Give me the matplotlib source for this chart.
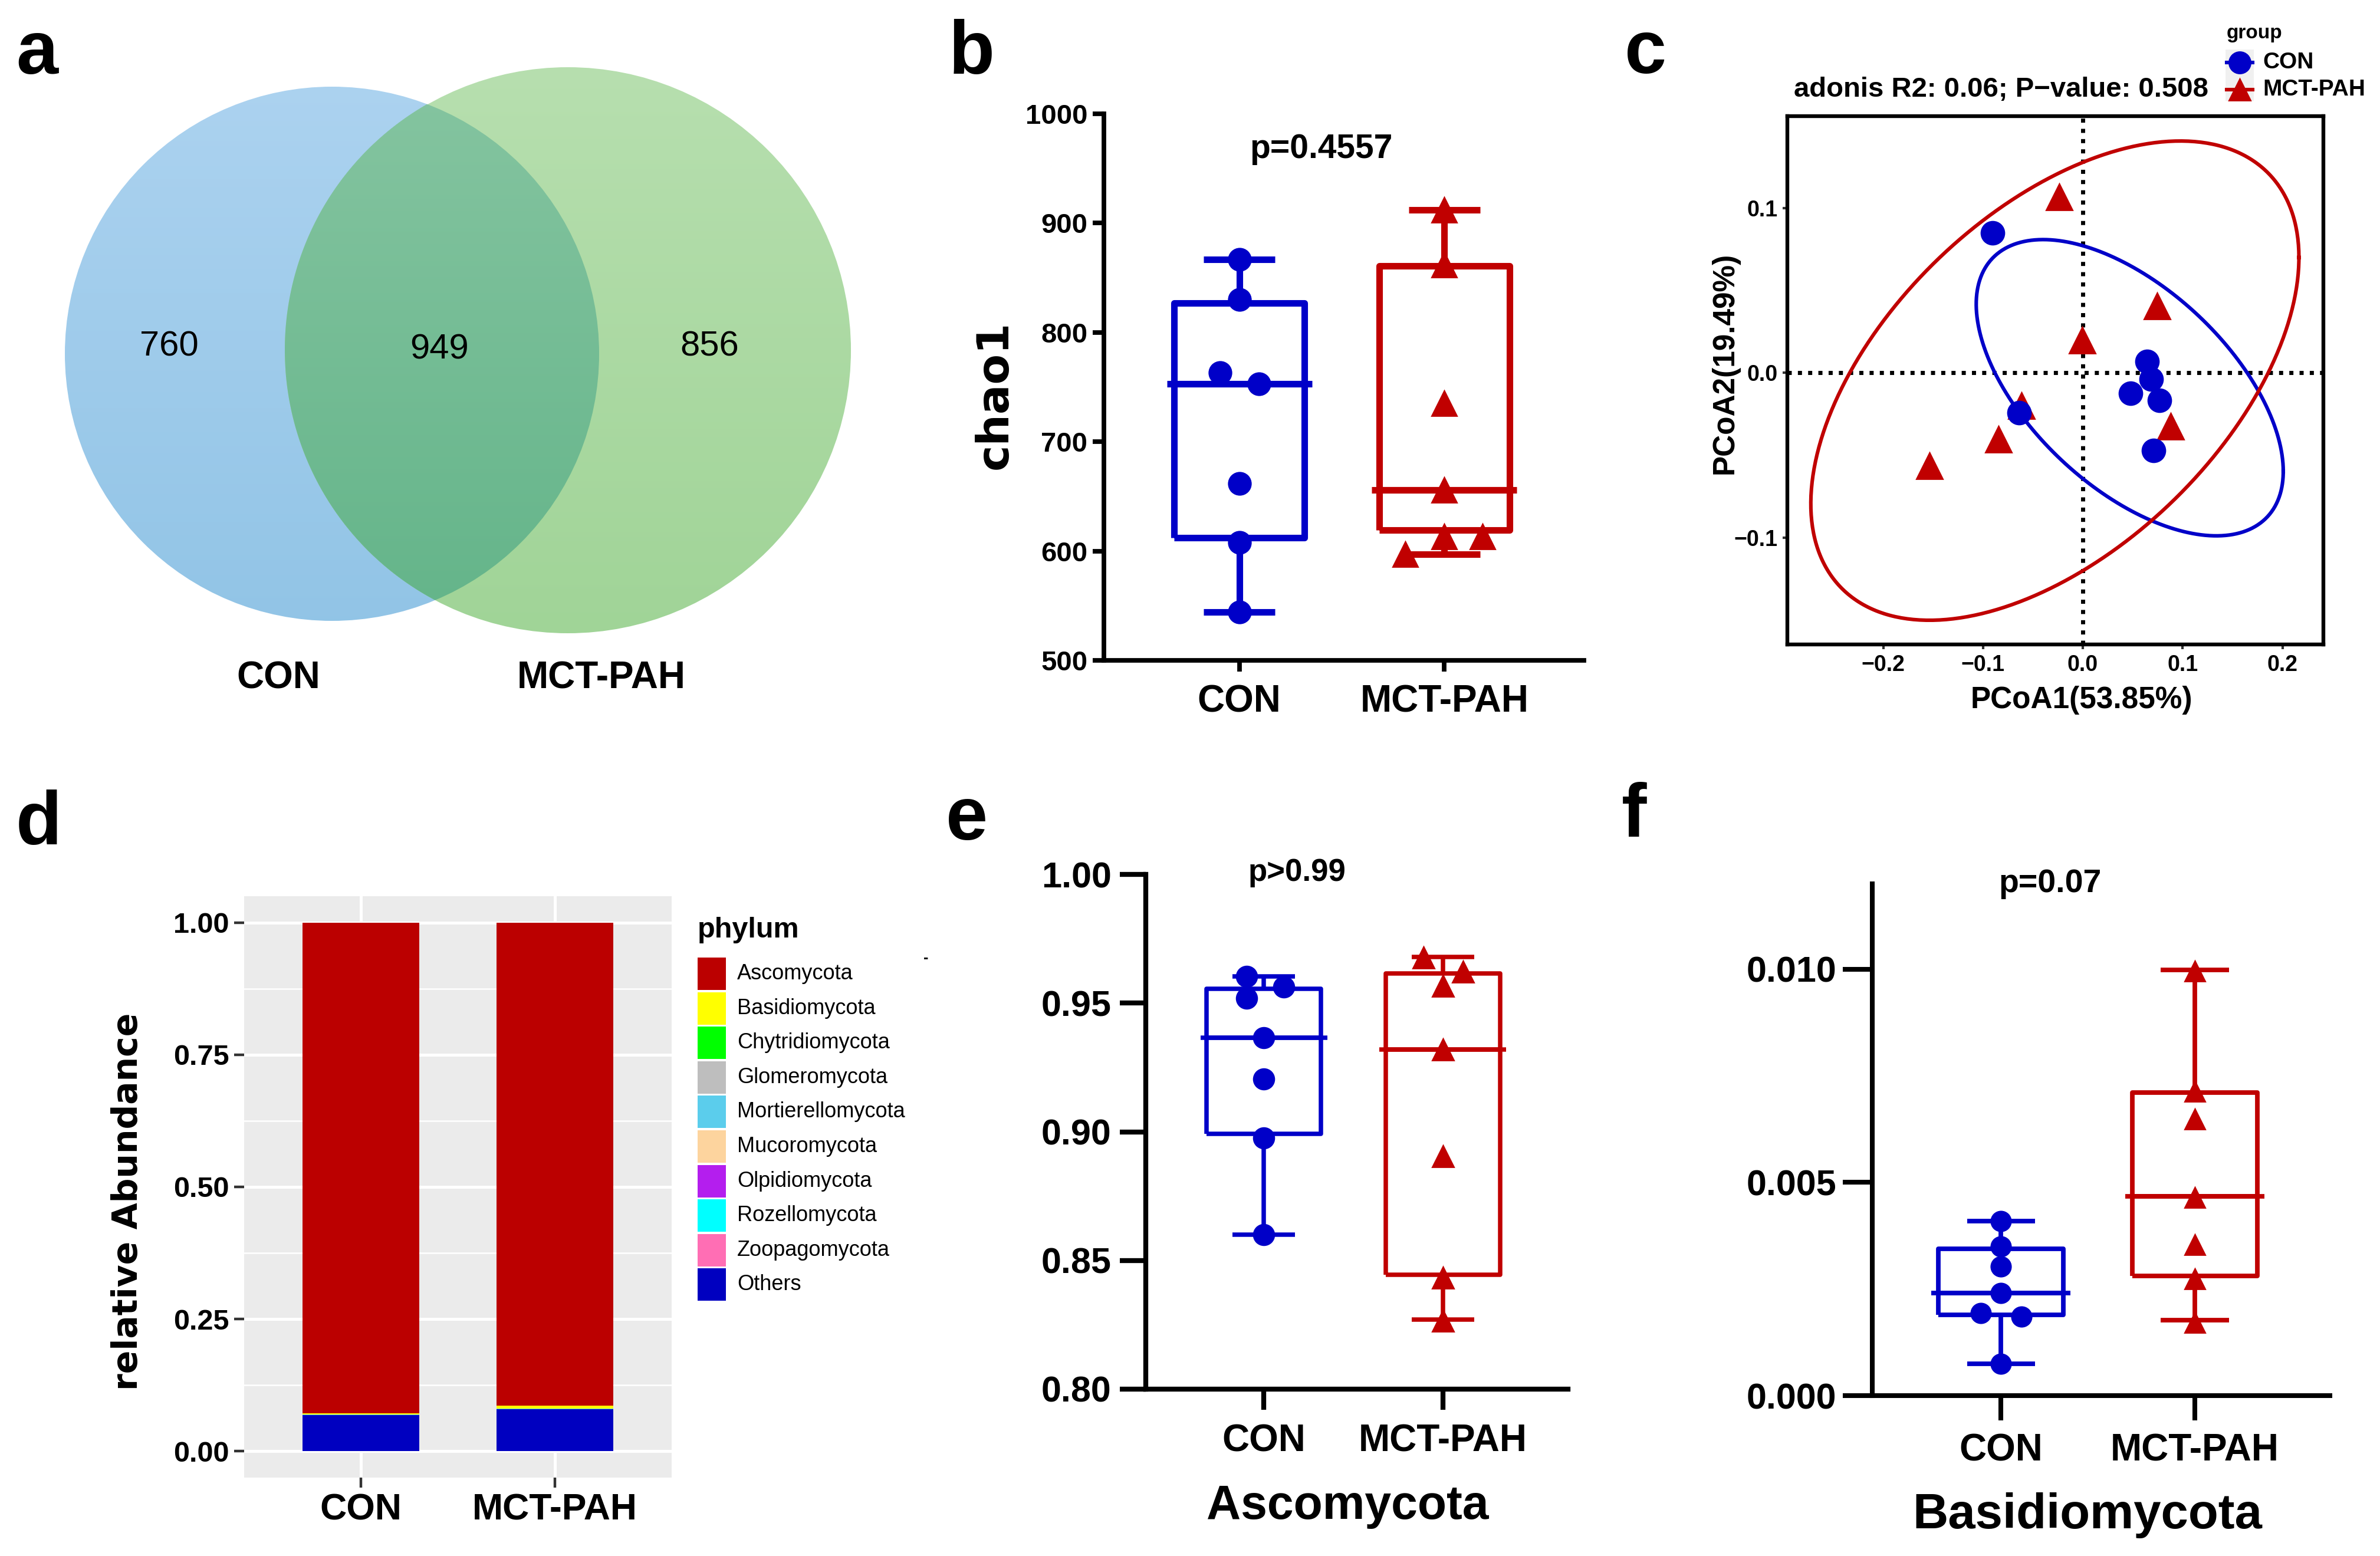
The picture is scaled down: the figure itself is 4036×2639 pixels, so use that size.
import numpy as np
import matplotlib
matplotlib.use('Agg')
import matplotlib.pyplot as plt
from matplotlib import font_manager as fm
from matplotlib.patches import Circle, Rectangle

W, H, DPI = 4037, 2639, 200

# ---- data ----
groups = ['CON', 'MCT-PAH']

# a: venn counts (CON only, shared, MCT-PAH only)
venn_counts = [760, 949, 856]

# b: chao1
chao1_con = [867, 830, 763, 753, 662, 608, 544]
chao1_pah = [912, 862, 735, 656, 613, 613, 597]
# whislo, q1, median, q3, whishi
chao1_box_con = [544, 612, 753, 827, 867]
chao1_box_pah = [597, 619, 656, 861, 912]
chao1_p = 'p=0.4557'

# c: PCoA
pc1_con = [-0.0907, 0.0644, 0.0685, 0.0480, 0.0767, 0.0706, -0.0640]
pc2_con = [0.0849, 0.0071, -0.0037, -0.0123, -0.0166, -0.0471, -0.0243]
pc1_pah = [-0.0234, 0.0747, -0.0008, -0.0615, 0.0882, -0.0845, -0.1538]
pc2_pah = [0.1070, 0.0406, 0.0200, -0.0200, -0.0323, -0.0403, -0.0566]
# ellipse: centre x, centre y, sd x, sd y, correlation
ell_con = [0.047, -0.009, 0.1538, 0.0900, -0.564]
ell_pah = [-0.028, -0.0047, 0.2445, 0.1456, 0.514]
adonis_title = 'adonis R2: 0.06; P\u2212value: 0.508'
pc1_label = 'PCoA1(53.85%)'
pc2_label = 'PCoA2(19.49%)'

# d: phylum relative abundance
phyla = ['Ascomycota', 'Basidiomycota', 'Chytridiomycota', 'Glomeromycota',
         'Mortierellomycota', 'Mucoromycota', 'Olpidiomycota', 'Rozellomycota',
         'Zoopagomycota', 'Others']
abund_con = [0.9282, 0.0025, 0.0003, 0.0001, 0.0004, 0.0002, 0.0001, 0.0001, 0.0001, 0.0680]
abund_pah = [0.9143, 0.0050, 0.0004, 0.0001, 0.0006, 0.0003, 0.0001, 0.0001, 0.0001, 0.0790]

# e: Ascomycota
asco_con = [0.9604, 0.9562, 0.9519, 0.9366, 0.9205, 0.8977, 0.8600]
asco_pah = [0.9676, 0.9622, 0.9568, 0.9319, 0.8905, 0.8432, 0.8265]
asco_box_con = [0.8600, 0.8991, 0.9366, 0.9555, 0.9604]
asco_box_pah = [0.8270, 0.8445, 0.9319, 0.9616, 0.9679]
asco_p = 'p>0.99'

# f: Basidiomycota
basid_con = [0.00409, 0.00350, 0.00303, 0.00240, 0.00194, 0.00185, 0.00075]
basid_pah = [0.00996, 0.00713, 0.00648, 0.00465, 0.00354, 0.00274, 0.00172]
basid_box_con = [0.00075, 0.00190, 0.00240, 0.00344, 0.00409]
basid_box_pah = [0.00177, 0.00281, 0.00467, 0.00711, 0.00998]
basid_p = 'p=0.07'

# ---- styling ----
BLUE = '#0000C8'
RED = '#C00000'
phylum_colors = ['#BB0000', '#FFFF00', '#00FF00', '#BEBEBE', '#5BCDEC',
                 '#FDD49E', '#B41EEE', '#00FFFF', '#FF6EB4', '#0000C0']

# horizontal spread of the dots (layout only)
jit_b_con = [0, 0, -0.095, 0.095, 0, 0, 0]
jit_b_pah = [0, 0, 0, 0, 0, 0.185, -0.19]
jit_e_con = [-0.096, 0.11, -0.096, 0, 0, 0, 0]
jit_e_pah = [-0.107, 0.113, 0, 0, 0, 0, 0]
jit_f_con = [0, 0, 0, 0, -0.104, 0.107, 0]
jit_f_pah = [0, 0, 0, 0, 0, 0, 0]

names = {f.name for f in fm.fontManager.ttflist}
NARROW = 'Liberation Sans Narrow' if 'Liberation Sans Narrow' in names else 'Liberation Sans'
ARIAL = 'Liberation Sans'
HEAVY = 'DejaVu Sans'
plt.rcParams['font.family'] = ARIAL

fig = plt.figure(figsize=(W / DPI, H / DPI), dpi=DPI)


def frac(l, t, r, b):
    return [l / W, 1 - b / H, (r - l) / W, (b - t) / H]


def ftext(x, y, s, **kw):
    return fig.text(x / W, 1 - y / H, s, **kw)


def fmt(v, nd):
    return f'{v:.{nd}f}'.replace('-', '\u2212')


# panel letters
for letter, (x, y) in zip('abcdef', [(27, 125), (1609, 125), (2755, 124),
                                     (27, 1432), (1604, 1424), (2750, 1419)]):
    ftext(x, y, letter, ha='left', va='baseline', fontsize=46,
          fontweight='bold', family=ARIAL)

# ---- a: venn ----
ax_a = fig.add_axes(frac(0, 0, 1500, 1250))
ax_a.set_xlim(0, 1500)
ax_a.set_ylim(1250, 0)
ax_a.axis('off')
circ_l = (563, 600, 453)
circ_r = (963, 594, 480)
ys = np.arange(1250) + 0.5
xs = np.arange(1500) + 0.5


def gradient(top, bot):
    t = np.clip((ys - 110) / (1080 - 110), 0, 1)[:, None]
    col = (1 - t) * np.array(top) + t * np.array(bot)
    return (col / 255.0).astype(np.float32)[:, None, :]


ext = (0, 1500, 1250, 0)
im = ax_a.imshow(gradient((173, 211, 240), (145, 196, 230)), extent=ext,
                 aspect='auto', interpolation='bilinear')
im.set_clip_path(Circle(circ_l[:2], circ_l[2], transform=ax_a.transData))
im = ax_a.imshow(gradient((183, 223, 175), (160, 212, 151)), extent=ext,
                 aspect='auto', interpolation='bilinear')
im.set_clip_path(Circle(circ_r[:2], circ_r[2], transform=ax_a.transData))
gx, gy = np.meshgrid(xs, ys)
alpha = np.clip(circ_r[2] - np.hypot(gx - circ_r[0], gy - circ_r[1]) + 0.5, 0, 1)
ov = np.empty((1250, 1500, 4), dtype=np.float32)
ov[..., :3] = gradient((134, 197, 161), (99, 180, 137))
ov[..., 3] = alpha
im = ax_a.imshow(ov, extent=ext, aspect='auto', interpolation='nearest')
im.set_clip_path(Circle(circ_l[:2], circ_l[2], transform=ax_a.transData))

for (x, y), n in zip([(287, 588), (745, 593), (1203, 588)], venn_counts):
    ax_a.text(x, y, str(n), ha='center', va='center', fontsize=21.5, family=NARROW)
for x, g in zip([472, 1020], groups):
    ax_a.text(x, 1150, g, ha='center', va='center', fontsize=23,
              fontweight='bold', family=NARROW)


# ---- dot + box helper ----
def dot_box(ax, vals, boxes, jits, colors, markers, ms, width, lw):
    for i in range(2):
        b = boxes[i]
        st = dict(whislo=b[0], q1=b[1], med=b[2], q3=b[3], whishi=b[4], fliers=[])
        p = dict(color=colors[i], linewidth=lw, solid_capstyle='butt')
        ax.bxp([st], positions=[i], widths=width, capwidths=0.35,
               showfliers=False, manage_ticks=False, boxprops=p,
               whiskerprops=p, capprops=p, medianprops=p)
        # median bar runs a little past the box, as in the prism style
        ax.hlines(b[2], i - width / 2 - 0.035, i + width / 2 + 0.035,
                  color=colors[i], lw=lw, zorder=3)
        ax.plot(i + np.array(jits[i]), vals[i], linestyle='none',
                marker=markers[i], color=colors[i], markersize=ms[i], zorder=4)


def style_axis(ax, lw, ylen, xlen, ypad, xpad):
    ax.spines[['top', 'right']].set_visible(False)
    for s in ('left', 'bottom'):
        ax.spines[s].set_linewidth(lw)
    ax.tick_params(axis='y', length=ylen, width=lw, pad=ypad)
    ax.tick_params(axis='x', length=xlen, width=lw, pad=xpad)
    ax.patch.set_alpha(0)


# ---- b: chao1 ----
ax_b = fig.add_axes(frac(1872, 193, 2686, 1120))
ax_b.set_xlim(-0.66, 1.68)
ax_b.set_ylim(500, 1000)
dot_box(ax_b, [chao1_con, chao1_pah], [chao1_box_con, chao1_box_pah],
        [jit_b_con, jit_b_pah], [BLUE, RED], ['o', '^'], [13.5, 15], 0.637, 4.0)
style_axis(ax_b, 2.8, 7, 7, 3, 7.5)
yt = [500, 600, 700, 800, 900, 1000]
ax_b.set_yticks(yt)
ax_b.set_yticklabels([str(v) for v in yt], fontsize=17, fontweight='bold', family=NARROW)
ax_b.set_xticks([0, 1])
ax_b.set_xticklabels(groups, fontsize=23, fontweight='bold', family=NARROW)
ftext(2240, 253, chao1_p, ha='center', va='center', fontsize=20.5,
      fontweight='bold', family=NARROW)
ftext(1687, 670, 'chao1', ha='center', va='center', rotation=90,
      fontsize=27, fontweight='bold', family=HEAVY)

# ---- c: PCoA ----
ax_c = fig.add_axes(frac(3031, 197, 3940, 1093))
ax_c.set_xlim(-0.296, 0.241)
ax_c.set_ylim(-0.165, 0.156)
ax_c.axhline(0, color='black', lw=2.5, ls=(0, (1, 1.5)), zorder=1)
ax_c.axvline(0, color='black', lw=2.5, ls=(0, (1, 1.5)), zorder=1)
t = np.linspace(0, 2 * np.pi, 400)
for e, col in zip([ell_con, ell_pah], [BLUE, RED]):
    cx, cy, sx, sy, rho = e
    ax_c.plot(cx + sx * np.cos(t),
              cy + sy * (rho * np.cos(t) + np.sqrt(1 - rho ** 2) * np.sin(t)),
              color=col, lw=2.2, zorder=2)
ax_c.plot(pc1_pah, pc2_pah, '^', color=RED, markersize=16, zorder=3)
ax_c.plot(pc1_con, pc2_con, 'o', color=BLUE, markersize=14, zorder=4)
for s in ax_c.spines.values():
    s.set_linewidth(2.3)
xt = [-0.2, -0.1, 0.0, 0.1, 0.2]
ax_c.set_xticks(xt)
ax_c.set_xticklabels([fmt(v, 1) for v in xt], fontsize=13.5, fontweight='bold')
ytc = [-0.1, 0.0, 0.1]
ax_c.set_yticks(ytc)
ax_c.set_yticklabels([fmt(v, 1) for v in ytc], fontsize=13.5, fontweight='bold')
ax_c.tick_params(length=3, width=1.5, color='#333333', pad=3)
ftext(3042, 152, adonis_title, ha='left', va='center', fontsize=17, fontweight='bold')
ftext(3530, 1187, pc1_label, ha='center', va='center', fontsize=18.5, fontweight='bold')
ftext(2925, 616, pc2_label, ha='center', va='center', rotation=90,
      fontsize=18.5, fontweight='bold')

# c legend
ax_lg = fig.add_axes(frac(3740, 20, 4037, 190))
ax_lg.set_xlim(3740, 4037)
ax_lg.set_ylim(190, 20)
ax_lg.axis('off')
ax_lg.add_patch(Rectangle((3774, 84), 48, 87, color='#F0F0F0', lw=0))
for y, col, mk, g in zip([106, 152], [BLUE, RED], ['o', '^'], groups):
    ax_lg.plot([3776, 3820], [y, y], color=col, lw=2.2)
    ax_lg.plot([3798], [y], marker=mk, color=col, markersize=13)
    ax_lg.text(3837, y, g, ha='left', va='center', fontsize=14, fontweight='bold')
ax_lg.text(3776, 56, 'group', ha='left', va='center', fontsize=12, fontweight='bold')

# ---- d: stacked bars ----
ax_d = fig.add_axes(frac(414, 1520, 1139, 2506))
ax_d.set_facecolor('#EBEBEB')
ax_d.set_xlim(0.4, 2.6)
ax_d.set_ylim(-0.05, 1.05)
for v in [0.125, 0.375, 0.625, 0.875]:
    ax_d.axhline(v, color='white', lw=0.9, zorder=0)
for v in [0, 0.25, 0.5, 0.75, 1.0]:
    ax_d.axhline(v, color='white', lw=1.8, zorder=0)
for v in [1, 2]:
    ax_d.axvline(v, color='white', lw=1.8, zorder=0)
xpos = np.array([1, 2])
bottom = np.zeros(2)
for i in range(len(phyla) - 1, -1, -1):
    vals = np.array([abund_con[i], abund_pah[i]])
    ax_d.bar(xpos, vals, width=0.6, bottom=bottom, color=phylum_colors[i],
             linewidth=0, zorder=2)
    bottom += vals
for s in ax_d.spines.values():
    s.set_visible(False)
ytd = [0, 0.25, 0.5, 0.75, 1.0]
ax_d.set_yticks(ytd)
ax_d.set_yticklabels([fmt(v, 2) for v in ytd], fontsize=17.5, fontweight='bold', family=NARROW)
ax_d.set_xticks(xpos)
ax_d.set_xticklabels(groups, fontsize=22.5, fontweight='bold', family=NARROW)
ax_d.tick_params(length=6, width=1.6, color='#333333', pad=3)
ftext(217, 2038, 'relative Abundance', ha='center', va='center', rotation=90,
      fontsize=21, fontweight='bold', family=HEAVY)

# d legend
ax_ld = fig.add_axes(frac(1170, 1540, 1640, 2230))
ax_ld.set_xlim(1170, 1640)
ax_ld.set_ylim(2230, 1540)
ax_ld.axis('off')
ax_ld.text(1183, 1578, 'phylum', ha='left', va='center', fontsize=17.5,
           fontweight='bold', family=NARROW)
for i, (name, col) in enumerate(zip(phyla, phylum_colors)):
    top = 1624 + i * 58.6
    ax_ld.add_patch(Rectangle((1183, top), 48, 55, facecolor=col, lw=0))
    ax_ld.text(1250, top + 27.5, name, ha='left', va='center', fontsize=13,
               family=NARROW)
ftext(1570, 1625, '-', ha='center', va='center', fontsize=9, fontweight='bold')

# ---- e: Ascomycota ----
ax_e = fig.add_axes(frac(1943, 1483, 2659, 2356))
ax_e.set_xlim(-0.66, 1.70)
ax_e.set_ylim(0.80, 1.00)
dot_box(ax_e, [asco_con, asco_pah], [asco_box_con, asco_box_pah],
        [jit_e_con, jit_e_pah], [BLUE, RED], ['o', '^'], [12.5, 13], 0.64, 2.7)
style_axis(ax_e, 3.0, 16, 12.6, 5, 8.6)
yte = [0.80, 0.85, 0.90, 0.95, 1.00]
ax_e.set_yticks(yte)
ax_e.set_yticklabels([fmt(v, 2) for v in yte], fontsize=22, fontweight='bold')
ax_e.set_xticks([0, 1])
ax_e.set_xticklabels(groups, fontsize=23, fontweight='bold')
ftext(2200, 1480, asco_p, ha='center', va='center', fontsize=19, fontweight='bold')
ftext(2285, 2555, 'Ascomycota', ha='center', va='center', fontsize=29, fontweight='bold')

# ---- f: Basidiomycota ----
ax_f = fig.add_axes(frac(3175, 1499, 3951, 2367))
ax_f.set_xlim(-0.663, 1.696)
ax_f.set_ylim(0, 0.012)
dot_box(ax_f, [basid_con, basid_pah], [basid_box_con, basid_box_pah],
        [jit_f_con, jit_f_pah], [BLUE, RED], ['o', '^'], [12, 12.5], 0.645, 2.8)
style_axis(ax_f, 2.9, 18, 15, 4, 8)
ytf = [0.0, 0.005, 0.010]
ax_f.set_yticks(ytf)
ax_f.set_yticklabels([fmt(v, 3) for v in ytf], fontsize=22, fontweight='bold')
ax_f.set_xticks([0, 1])
ax_f.set_xticklabels(groups, fontsize=23, fontweight='bold')
ftext(3477, 1499, basid_p, ha='center', va='center', fontsize=20, fontweight='bold')
ftext(3540, 2570, 'Basidiomycota', ha='center', va='center', fontsize=30, fontweight='bold')

fig.savefig('out.png', dpi=DPI)
